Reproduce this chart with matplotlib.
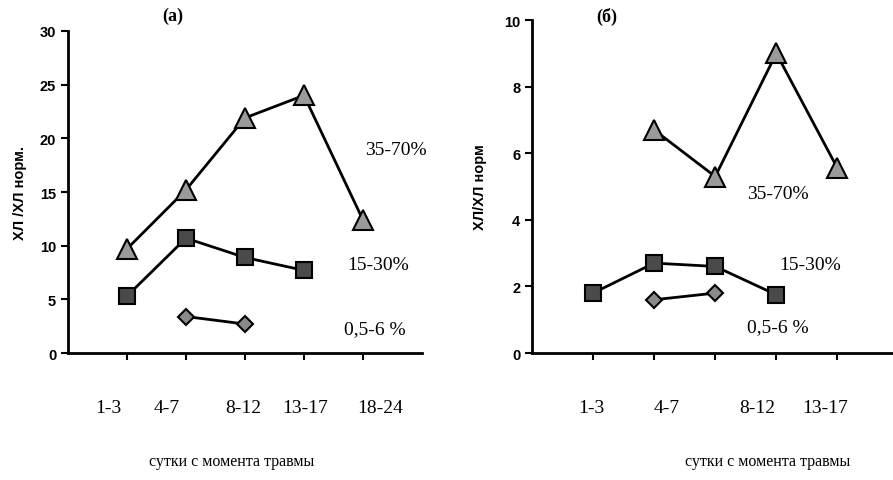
import matplotlib.pyplot as plt

# panel (а)
cats_a = ['1-3', '4-7', '8-12', '13-17', '18-24']
hi_a = [9.7, 15.2, 21.9, 24.0, 12.4]     # 35-70%
mid_a = [5.3, 10.7, 8.9, 7.7]            # 15-30%
lo_a = [3.4, 2.7]                        # 0,5-6 %

# panel (б)
cats_b = ['1-3', '4-7', '8-12', '13-17']
hi_b = [6.7, 5.3, 9.0, 5.55]
mid_b = [1.8, 2.7, 2.6, 1.75]
lo_b = [1.6, 1.8]

serif = 'Liberation Serif'
sans = 'Liberation Sans'

fig = plt.figure(figsize=(8.93, 4.81), dpi=100)
axA = fig.add_axes([0.0761, 0.264, 0.3964, 0.6695])
axB = fig.add_axes([0.5957, 0.264, 0.405, 0.6923])


def style(ax, ymax, ystep):
    for s in ['top', 'right']:
        ax.spines[s].set_visible(False)
    for s in ['left', 'bottom']:
        ax.spines[s].set_linewidth(2)
    ax.set_ylim(0, ymax)
    ax.set_yticks(range(0, ymax + 1, ystep))
    ax.tick_params(axis='y', direction='out', length=5, width=1.5, labelsize=10.5)
    for t in ax.get_yticklabels():
        t.set_fontfamily(sans)
        t.set_fontweight('bold')
    ax.tick_params(axis='x', which='major', direction='out', length=5, width=1.5, labelbottom=False)
    ax.tick_params(axis='x', which='minor', length=0, pad=33, labelsize=14)


def series(ax, x, y, marker, size, face):
    ax.plot(x, y, color='black', lw=2, marker=marker, ms=size, mfc=face,
            mec='black', mew=1.5, clip_on=False, zorder=3)


# (а)
style(axA, 30, 5)
axA.set_xlim(0, 6)
axA.set_xticks([1, 2, 3, 4, 5])
axA.set_xticks([0.68, 1.68, 2.97, 4.02, 5.29], minor=True)
axA.set_xticklabels(cats_a, minor=True, fontfamily=serif)
series(axA, [1, 2, 3, 4, 5], hi_a, '^', 14, '#9a9a9a')
series(axA, [1, 2, 3, 4], mid_a, 's', 12, '#4a4a4a')
series(axA, [2, 3], lo_a, 'D', 8, '#8a8a8a')
axA.set_ylabel('ХЛ /ХЛ норм.', fontfamily=sans, fontweight='bold', fontsize=10.5, labelpad=9)
axA.text(5.55, 19.0, '35-70%', fontfamily=serif, fontsize=14, ha='center', va='center')
axA.text(5.25, 8.2, '15-30%', fontfamily=serif, fontsize=14, ha='center', va='center')
axA.text(5.2, 2.3, '0,5-6 %', fontfamily=serif, fontsize=14, ha='center', va='center')
fig.text(173 / 893, 1 - 16 / 481, '(а)', fontfamily=serif, fontweight='bold', fontsize=13, ha='center', va='center')

# (б)
style(axB, 10, 2)
axB.set_xlim(0, 5.92)
axB.set_xticks([1, 2, 3, 4, 5])
axB.set_xticks([0.97, 2.2, 3.69, 4.8], minor=True)
axB.set_xticklabels(cats_b, minor=True, fontfamily=serif)
series(axB, [2, 3, 4, 5], hi_b, '^', 14, '#9a9a9a')
series(axB, [1, 2, 3, 4], mid_b, 's', 12, '#4a4a4a')
series(axB, [2, 3], lo_b, 'D', 8, '#8a8a8a')
axB.set_ylabel('ХЛ/ХЛ норм', fontfamily=sans, fontweight='bold', fontsize=10.5, labelpad=12)
axB.text(4.03, 4.8, '35-70%', fontfamily=serif, fontsize=14, ha='center', va='center')
axB.text(4.55, 2.65, '15-30%', fontfamily=serif, fontsize=14, ha='center', va='center')
axB.text(4.03, 0.8, '0,5-6 %', fontfamily=serif, fontsize=14, ha='center', va='center')
fig.text(607 / 893, 1 - 17 / 481, '(б)', fontfamily=serif, fontweight='bold', fontsize=13, ha='center', va='center')

fig.text(232 / 893, 1 - 462 / 481, 'сутки с момента травмы', fontfamily=serif, fontsize=11.5, ha='center', va='center')
fig.text(768 / 893, 1 - 462 / 481, 'сутки с момента травмы', fontfamily=serif, fontsize=11.5, ha='center', va='center')

fig.savefig('out.png', dpi=100)
